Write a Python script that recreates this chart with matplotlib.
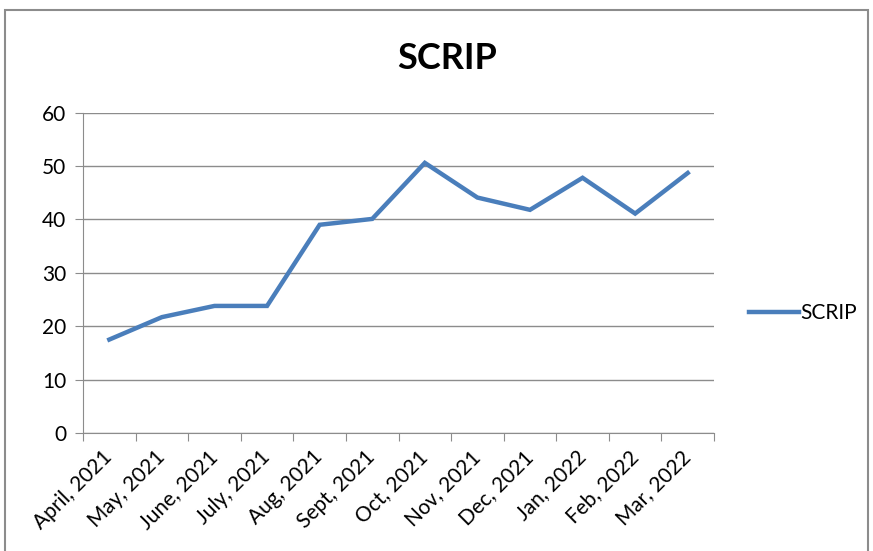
import matplotlib.pyplot as plt
from matplotlib.patches import Rectangle

months = ['April, 2021', 'May, 2021', 'June, 2021', 'July, 2021', 'Aug, 2021',
          'Sept, 2021', 'Oct, 2021', 'Nov, 2021', 'Dec, 2021', 'Jan, 2022',
          'Feb, 2022', 'Mar, 2022']
scrip = [17.5, 21.7, 23.8, 23.8, 39.0, 40.1, 50.6, 44.1, 41.8, 47.8, 41.1, 48.7]

plt.rcParams['font.family'] = ['Lato', 'DejaVu Sans']

fig = plt.figure(figsize=(8.73, 5.51), dpi=100)
ax = fig.add_axes([0.0951, 0.2142, 0.7228, 0.5813])

x = list(range(len(months)))
ax.plot(x, scrip, color='#4A7EBB', lw=3.2, solid_joinstyle='miter', label='SCRIP')

ax.set_xlim(-0.5, len(months) - 0.5)
ax.set_ylim(0, 60)
ax.set_yticks(range(0, 61, 10))
ax.yaxis.grid(True, color='#8c8c8c', lw=1)
ax.set_axisbelow(True)

ax.set_xticks([i - 0.5 for i in range(len(months) + 1)])
ax.set_xticklabels([])
ax.set_xticks(x, minor=True)
ax.set_xticklabels(months, minor=True, rotation=45, ha='right', va='center',
                   rotation_mode='anchor', fontsize=15)
ax.tick_params(axis='x', which='minor', length=0, pad=15)
ax.tick_params(axis='x', which='major', length=6, color='#8c8c8c', direction='out')
ax.tick_params(axis='y', length=6, color='#8c8c8c', direction='out', labelsize=15, pad=6)

for s in ['top', 'right']:
    ax.spines[s].set_visible(False)
for s in ['left', 'bottom']:
    ax.spines[s].set_color('#8c8c8c')

fig.text(0.5125, 0.893, 'SCRIP', ha='center', va='center', fontsize=26, fontweight='bold')

ax.legend(loc='center left', bbox_to_anchor=(1.025, 0.375), frameon=False,
          fontsize=15, handlelength=2.4, handletextpad=0.1)

fig.patches.append(Rectangle((5 / 873, -0.05), 863 / 873, 1.05 - 10 / 551,
                             transform=fig.transFigure, fill=False,
                             edgecolor='#8c8c8c', lw=1.5))

fig.savefig('out.png', dpi=100)
